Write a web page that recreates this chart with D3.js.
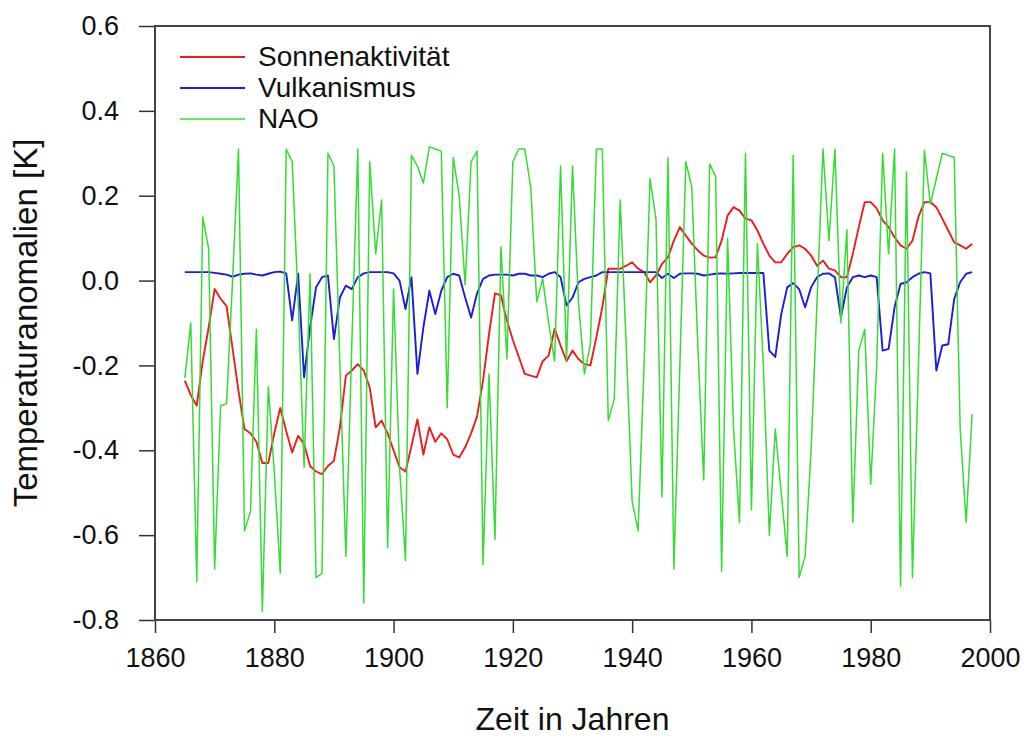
<!DOCTYPE html>
<html>
<head>
<meta charset="utf-8">
<script src="https://cdn.jsdelivr.net/npm/d3@7"></script>
<style>
  body { margin: 0; background: #fff; }
  svg { display: block; }
  text { font-family: "Liberation Sans", Arial, sans-serif; fill: #111; }
</style>
</head>
<body>
<svg width="1029" height="745"></svg>
<script>
// years 1865..1997, one value per year
var firstYear = 1865;

var sonne = [
  -0.236, -0.27, -0.295, -0.19, -0.11, -0.02, -0.043, -0.06, -0.16, -0.26,   // 1865
  -0.35, -0.36, -0.38, -0.43, -0.43, -0.36, -0.30, -0.355, -0.405, -0.366,   // 1875
  -0.385, -0.437, -0.45, -0.456, -0.437, -0.425, -0.346, -0.224, -0.212, -0.197, // 1885
  -0.212, -0.252, -0.346, -0.33, -0.36, -0.40, -0.44, -0.45, -0.39, -0.327,  // 1895
  -0.41, -0.346, -0.38, -0.36, -0.374, -0.41, -0.417, -0.393, -0.36, -0.32,  // 1905
  -0.236, -0.126, -0.03, -0.035, -0.094, -0.14, -0.18, -0.22, -0.224, -0.228, // 1915
  -0.19, -0.177, -0.114, -0.153, -0.19, -0.165, -0.185, -0.197, -0.20, -0.134, // 1925
  -0.063, 0.028, 0.028, 0.028, 0.035, 0.043, 0.028, 0.02, -0.004, 0.012,      // 1935
  0.039, 0.055, 0.094, 0.126, 0.106, 0.087, 0.071, 0.059, 0.054, 0.055,       // 1945
  0.094, 0.153, 0.173, 0.165, 0.146, 0.142, 0.118, 0.087, 0.059, 0.043,       // 1955
  0.043, 0.063, 0.079, 0.083, 0.075, 0.059, 0.035, 0.047, 0.028, 0.024,       // 1965
  0.008, 0.008, 0.063, 0.126, 0.185, 0.185, 0.17, 0.142, 0.126, 0.102,       // 1975
  0.083, 0.075, 0.094, 0.15, 0.185, 0.185, 0.173, 0.146, 0.118, 0.09,        // 1985
  0.083, 0.075, 0.087                                                        // 1995
];

var vulkan = [
  0.02, 0.02, 0.02, 0.02, 0.02, 0.018, 0.016, 0.014, 0.009, 0.014,           // 1865
  0.016, 0.017, 0.014, 0.012, 0.016, 0.02, 0.021, 0.017, -0.094, 0.016,      // 1875
  -0.228, -0.11, -0.016, 0.008, 0.012, -0.138, -0.04, -0.012, -0.02, 0.008,  // 1885
  0.017, 0.02, 0.02, 0.02, 0.02, 0.017, 0.0, -0.067, 0.008, -0.22,           // 1895
  -0.11, -0.024, -0.079, -0.024, 0.008, 0.016, 0.012, -0.04, -0.087, -0.03,  // 1905
  0.004, 0.012, 0.014, 0.014, 0.014, 0.012, 0.016, 0.016, 0.012, 0.012,      // 1915
  0.008, 0.016, 0.02, 0.008, -0.059, -0.04, -0.004, 0.004, 0.008, 0.012,     // 1925
  0.02, 0.02, 0.02, 0.02, 0.02, 0.02, 0.02, 0.02, 0.02, 0.02,                // 1935
  0.006, 0.016, 0.006, 0.016, 0.017, 0.017, 0.016, 0.012, 0.014, 0.016,      // 1945
  0.017, 0.016, 0.017, 0.018, 0.018, 0.018, 0.018, 0.018, -0.165, -0.18,     // 1955
  -0.079, -0.016, -0.006, -0.02, -0.063, -0.016, 0.008, 0.016, 0.017, 0.008, // 1965
  -0.087, -0.016, 0.008, 0.012, 0.008, 0.012, 0.008, -0.165, -0.161, -0.063, // 1975
  -0.008, -0.004, 0.008, 0.016, 0.02, 0.017, -0.212, -0.153, -0.15, -0.043,  // 1985
  -0.004, 0.016, 0.02                                                        // 1995
];

var nao = [
  -0.23, -0.10, -0.71, 0.15, 0.075, -0.68, -0.295, -0.29, 0.0, 0.31,         // 1865
  -0.59, -0.545, -0.115, -0.78, -0.25, -0.45, -0.69, 0.31, 0.28, -0.05,      // 1875
  -0.44, 0.016, -0.70, -0.69, 0.30, 0.27, -0.2, -0.65, -0.15, 0.31,          // 1885
  -0.76, 0.28, 0.063, 0.19, -0.63, -0.02, -0.44, -0.66, 0.295, 0.27,         // 1895
  0.23, 0.315, 0.31, 0.305, -0.30, 0.29, 0.20, -0.01, 0.28, 0.305,           // 1905
  -0.67, -0.22, -0.61, 0.08, -0.185, 0.28, 0.31, 0.31, 0.22, -0.05,          // 1915
  0.004, -0.1, -0.19, 0.27, -0.19, 0.27, -0.05, -0.22, -0.15, 0.31,          // 1925
  0.31, -0.33, -0.28, 0.19, -0.15, -0.52, -0.59, -0.2, 0.24, 0.145,          // 1935
  -0.51, 0.29, -0.68, -0.2, 0.28, 0.22, -0.15, -0.47, 0.275, 0.245,          // 1945
  -0.685, 0.10, -0.35, -0.57, 0.30, -0.54, 0.087, -0.2, -0.60, -0.35,        // 1955
  -0.5, -0.65, 0.295, -0.70, -0.65, -0.4, -0.05, 0.31, 0.094, 0.31,          // 1965
  -0.1, 0.12, -0.57, -0.165, -0.115, -0.48, -0.2, 0.30, 0.063, 0.31,         // 1975
  -0.72, 0.256, -0.70, -0.2, 0.307, 0.18, 0.24, 0.30, 0.295, 0.29,           // 1985
  -0.35, -0.57, -0.315                                                       // 1995
];

var seriesNames = ["Sonnenaktivität", "Vulkanismus", "NAO"];
var seriesColors = ["#ee1c1c", "#1c1ce0", "#33dd33"];
var xTicks = [1860, 1880, 1900, 1920, 1940, 1960, 1980, 2000];
var yTicks = [-0.8, -0.6, -0.4, -0.2, 0.0, 0.2, 0.4, 0.6];

var svg = d3.select("svg");
// plot box (names avoid the global window.top)
var boxL = 155, boxR = 990, boxT = 26, boxB = 620;

var x = d3.scaleLinear().domain([1860, 2000]).range([boxL, boxR]);
var y = d3.scaleLinear().domain([-0.8, 0.6]).range([boxB, boxT]);

// plain hyphen as minus sign, like the original
var fmtY = function(d) { return d3.format(".1f")(d).replace("\u2212", "-"); };

// bottom axis
var xAxis = svg.append("g")
    .attr("transform", "translate(0," + boxB + ")")
    .call(d3.axisBottom(x).tickValues(xTicks).tickFormat(d3.format("d")).tickSizeInner(13).tickSizeOuter(0).tickPadding(15));

// left axis
var yAxis = svg.append("g")
    .attr("transform", "translate(" + boxL + ",0)")
    .call(d3.axisLeft(y).tickValues(yTicks).tickFormat(fmtY).tickSizeInner(16).tickSizeOuter(0).tickPadding(20));

[xAxis, yAxis].forEach(function(a) {
  a.select(".domain").remove();
  a.selectAll("line").attr("stroke", "#333").attr("stroke-width", 1.5);
  a.selectAll("text").style("font-size", "27px").attr("fill", "#111")
    .style("font-family", '"Liberation Sans", Arial, sans-serif');
});

// frame
svg.append("rect")
    .attr("x", boxL).attr("y", boxT)
    .attr("width", boxR - boxL).attr("height", boxB - boxT)
    .attr("fill", "none").attr("stroke", "#444").attr("stroke-width", 2);

var line = d3.line()
    .x(function(d, i) { return x(firstYear + i); })
    .y(function(d) { return y(d); });

var plot = svg.append("g");
[sonne, vulkan, nao].forEach(function(s, k) {
  plot.append("path")
      .datum(s)
      .attr("fill", "none")
      .attr("stroke", seriesColors[k])
      .attr("stroke-width", k == 2 ? 1.5 : 1.9)
      .attr("stroke-linejoin", "round")
      .attr("d", line);
});

// legend
var legend = svg.append("g");
seriesNames.forEach(function(name, k) {
  var ly = 57 + k * 31;
  legend.append("line")
      .attr("x1", 180).attr("x2", 245)
      .attr("y1", ly).attr("y2", ly)
      .attr("stroke", seriesColors[k]).attr("stroke-width", k == 2 ? 1.5 : 1.9);
  legend.append("text")
      .attr("x", 258).attr("y", ly + 9)
      .style("font-size", "28px")
      .text(name);
});

// axis titles
svg.append("text")
    .attr("x", (boxL + boxR) / 2).attr("y", 730)
    .attr("text-anchor", "middle")
    .style("font-size", "32px")
    .text("Zeit in Jahren");

svg.append("text")
    .attr("transform", "translate(37," + (boxB + boxT) / 2 + ") rotate(-90)")
    .attr("text-anchor", "middle")
    .style("font-size", "33px")
    .text("Temperaturanomalien [K]");
</script>
</body>
</html>
